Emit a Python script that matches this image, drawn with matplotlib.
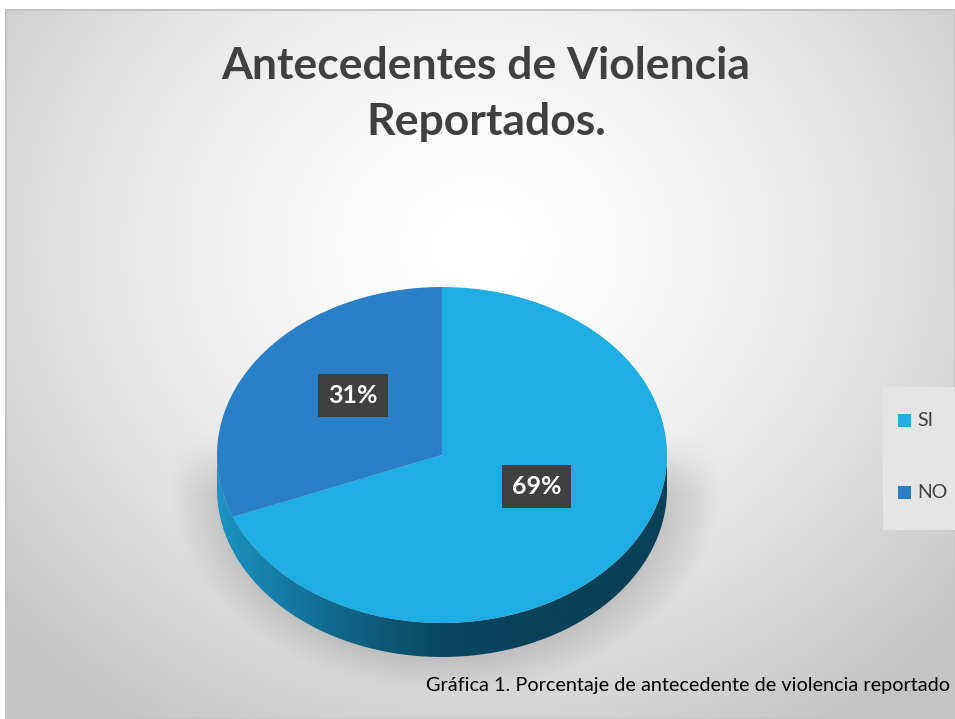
import numpy as np
import matplotlib.pyplot as plt
from matplotlib.patches import Polygon, Rectangle
from matplotlib.colors import LinearSegmentedColormap

# data
categories = ['SI', 'NO']
values = [69, 31]
colors = ['#1eaee4', '#2a80c6']
title = 'Antecedentes de Violencia\nReportados.'
caption = 'Gráfica 1. Porcentaje de antecedente de violencia reportado'

W, H = 955, 719
fig = plt.figure(figsize=(W / 100, H / 100), dpi=100)
fig.patch.set_facecolor('white')

# background with radial gradient
bg = fig.add_axes([0, 0, 1, 1])
bg.set_xlim(0, W)
bg.set_ylim(H, 0)
bg.axis('off')
yy, xx = np.mgrid[0:H, 0:W]
r = np.sqrt(((xx - 475) / 620.0) ** 2 + ((yy - 240) / 560.0) ** 2)
shade = np.clip(1.0 - 0.22 * r ** 1.6, 0.77, 1.0)
# soft shadow under the pie
d = np.sqrt(((xx - 442) / 248.0) ** 2 + ((yy - 478) / 190.0) ** 2)
sh = np.clip((1.12 - d) / 0.25, 0, 1) * np.clip((yy - 430) / 60.0, 0, 1)
shade = shade - 0.16 * sh
img = np.dstack([shade] * 3)
bg.imshow(img, extent=(6, W, H, 10), aspect='auto', zorder=0)
bg.add_patch(Rectangle((6, 10), W - 6, H - 10, fill=False, ec='#c4c4c4', lw=1.5, zorder=1))

# legend box
bg.add_patch(Rectangle((883, 387), 72, 143, fc='#e4e4e4', ec='none', zorder=2))
leg_y = [421, 493]
for cat, col, ly in zip(categories, colors, leg_y):
    bg.add_patch(Rectangle((898, ly - 7), 13, 13, fc=col, ec='none', zorder=3))
    bg.text(917, ly, cat, fontsize=14, color='#404040', va='center', ha='left',
            family='Lato', zorder=3)

bg.text(486, 94, title, fontsize=32, fontweight='bold', color='#404040',
        ha='center', va='center', linespacing=1.5, family='Lato')
bg.text(950, 685, caption, fontsize=14.3, color='black', ha='right', va='center',
        family='Lato')

# pie, squashed into an ellipse
depth = 34 / 168.0
left, right, top, bottom = 217, 667, 287, 657
ax = fig.add_axes([left / W, (H - bottom) / H, (right - left) / W, (bottom - top) / H])
ax.patch.set_alpha(0)
wedges, texts, autotexts = ax.pie(values, colors=colors, startangle=90, counterclock=False,
                                  autopct='%1.0f%%', pctdistance=0.5,
                                  wedgeprops=dict(linewidth=0))
ax.set_aspect('auto')
ax.axis('off')

# front side of the pie
t = np.linspace(np.pi, 2 * np.pi, 200)
pts = np.column_stack([np.cos(t), np.sin(t)])
side = np.vstack([pts, (pts - [0, depth])[::-1]])
poly = Polygon(side, closed=True, fc='none', ec='none', zorder=0.5)
ax.add_patch(poly)
cmap = LinearSegmentedColormap.from_list('side', ['#1b93c4', '#116a8e', '#0b4760', '#0a4058', '#0a4058'])
grad = np.linspace(0, 1, 256).reshape(1, -1)
gim = ax.imshow(grad, extent=(-1, 1, -1 - depth, 0), aspect='auto', cmap=cmap, zorder=0.5)
gim.set_clip_path(poly)
ax.set_xlim(-1, 1)
ax.set_ylim(-1 - depth, 1)

label_pos = [(0.42, -0.19), (-0.395, 0.355)]
for at, pos in zip(autotexts, label_pos):
    at.set_position(pos)
    at.set_color('white')
    at.set_fontsize(18)
    at.set_fontweight('bold')
    at.set_family('Lato')
    at.set_bbox(dict(boxstyle='square,pad=0.4', fc='#404040', ec='none'))

fig.savefig('out.png', dpi=100)
